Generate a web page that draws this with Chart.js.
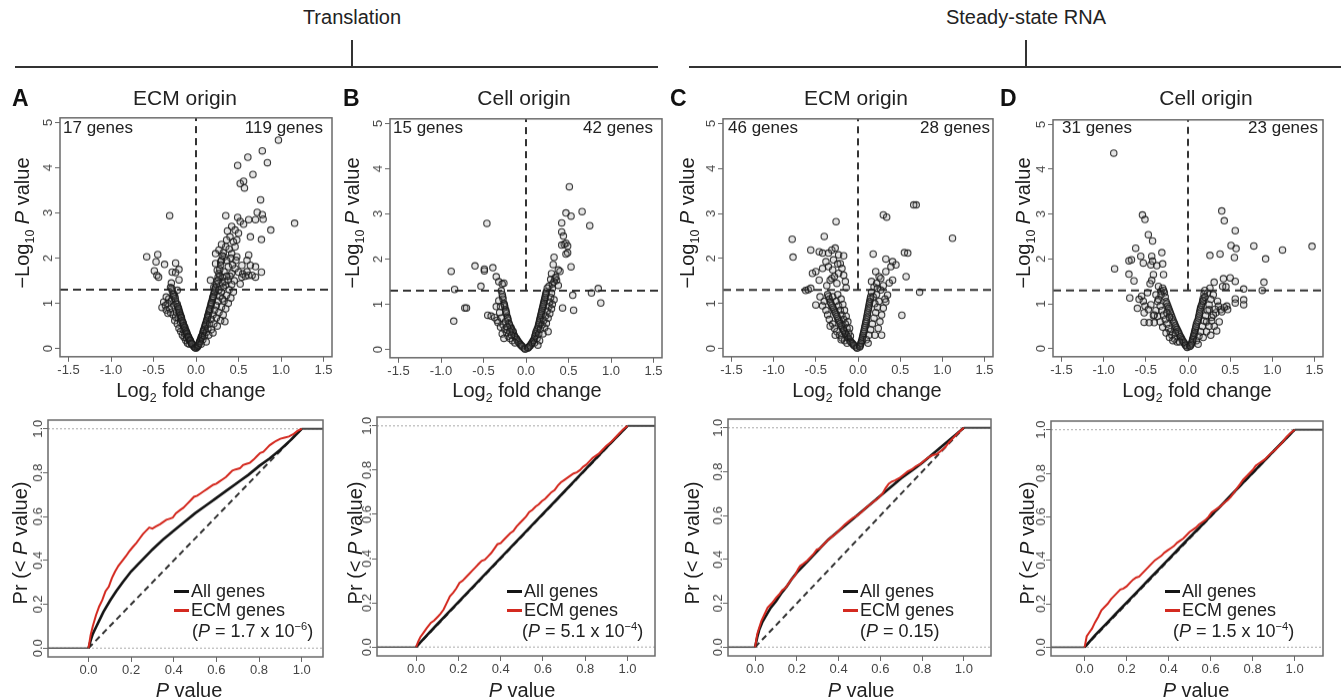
<!DOCTYPE html>
<html>
<head>
<meta charset="utf-8">
<title>Translation / steady-state RNA panels</title>
<script src="https://cdn.jsdelivr.net/npm/chart.js@4.4.1/dist/chart.umd.min.js"></script>
<style>
  body { margin: 0; background: #fff; }
  #page { position: relative; width: 1341px; height: 700px; overflow: hidden;
          font-family: "Liberation Sans", Arial, Helvetica, sans-serif; color: #222; }
  .t { position: absolute; white-space: nowrap; line-height: 1; }
  .wrap { position: absolute; }
  .rule { position: absolute; background: #333; }
  .sw { display: inline-block; width: 15px; height: 3px; vertical-align: middle;
        margin-right: 2px; position: relative; top: -1px; }
  sub, sup { font-size: 62%; line-height: 0; }
</style>
</head>
<body>
<div id="page"></div>
<script>
// ---- data ----
const volcanoXTicks = [-1.5, -1, -0.5, 0, 0.5, 1, 1.5];
const volcanoYTicks = [0, 1, 2, 3, 4, 5];
const cdfTicks = [0, 0.2, 0.4, 0.6, 0.8, 1];
const pCutoff = 1.3;   // -log10(0.05)

const panelLetters = ['A', 'B', 'C', 'D'];
const panelTitles = ['ECM origin', 'Cell origin', 'ECM origin', 'Cell origin'];
const genesDown = ['17 genes', '15 genes', '46 genes', '31 genes'];
const genesUp = ['119 genes', '42 genes', '28 genes', '23 genes'];
const ksPValues = ['1.7 x 10<sup>\u22126</sup>', '5.1 x 10<sup>\u22124</sup>', '0.15', '1.5 x 10<sup>\u22124</sup>'];

// volcano points [log2 fold change, -log10 P]
const volcanoA = [
  [0.97,4.61],[0.78,4.37],[0.61,4.23],[0.84,4.11],[0.49,4.05],[0.67,3.85],[0.56,3.70],[0.52,3.65],[0.57,3.55],[0.76,3.29],
  [-0.31,2.94],[0.35,2.94],[0.72,3.01],[0.78,2.96],[0.62,2.85],[0.70,2.85],[0.79,2.86],[1.16,2.77],[0.88,2.62],[0.64,2.47],
  [0.77,2.41],[0.49,2.90],[0.52,2.81],[0.42,2.70],[0.46,2.62],[0.50,2.55],[0.40,2.47],[0.36,2.40],[0.44,2.36],[0.46,2.25],
  [0.35,2.25],[0.27,2.18],[0.23,2.10],[0.33,2.03],[0.42,2.10],[0.48,2.03],[0.62,2.07],[0.60,1.95],[0.54,1.84],[0.64,1.84],
  [0.70,1.81],[0.77,1.69],[0.70,1.58],[0.62,1.62],[0.54,1.58],[0.50,1.69],[0.46,1.77],[0.42,1.66],[0.52,1.43],[0.38,1.51],
  [0.31,1.58],[0.25,1.73],[0.23,1.88],[0.29,1.92],[0.38,1.81],[0.17,1.51],[0.21,1.36],
  [0.30,2.30],[0.32,2.12],[0.37,2.60],[0.39,2.20],[0.41,2.00],[0.36,1.95],[0.33,1.70],[0.40,1.60],[0.45,1.50],[0.43,1.85],
  [0.28,1.60],[0.31,1.45],[0.35,1.40],[0.26,1.50],[0.48,2.40],[0.56,2.75],[0.47,1.95],[0.55,1.65],[0.58,1.60],[0.66,1.62],[0.60,1.70],
  [-0.58,2.03],[-0.45,2.08],[-0.47,1.92],[-0.37,1.86],[-0.24,1.89],[-0.20,1.75],[-0.28,1.69],[-0.24,1.68],[-0.49,1.72],[-0.46,1.62],
  [-0.44,1.58],[-0.20,1.52],[-0.29,1.45],[-0.32,1.10],[-0.35,1.14],[-0.38,1.03],[-0.40,0.91],[-0.30,0.80],[-0.26,1.21],[-0.22,1.29],
  [-0.30,1.35],[-0.28,1.28],[-0.27,1.20],[-0.25,1.15],[-0.24,1.05],[-0.22,0.98],[-0.21,0.90],[-0.20,0.84],[-0.19,0.78],[-0.18,0.72],
  [-0.17,0.66],[-0.16,0.60],[-0.15,0.55],[-0.14,0.50],[-0.13,0.45],[-0.12,0.40],[-0.11,0.35],[-0.10,0.30],[-0.09,0.26],[-0.08,0.22],
  [-0.07,0.18],[-0.06,0.14],[-0.05,0.11],[-0.04,0.08],[-0.03,0.06],[-0.02,0.04],
  [-0.33,1.00],[-0.36,0.95],[-0.31,0.88],[-0.27,0.75],[-0.25,0.62],[-0.22,0.55],[-0.20,0.45],[-0.18,0.38],[-0.16,0.30],[-0.14,0.25],
  [-0.12,0.18],[-0.10,0.12],[-0.08,0.10],[-0.29,1.05],[-0.26,0.95],[-0.23,0.80],[-0.21,0.68],[-0.18,0.58],[-0.15,0.42],[-0.13,0.33],
  [-0.11,0.24],[-0.35,0.85],[-0.33,0.78],[-0.24,0.70],
  [-0.285,1.33],[-0.265,1.16],[-0.245,1.11],[-0.235,0.99],[-0.215,0.93],[-0.205,0.88],[-0.195,0.81],[-0.185,0.74],[-0.172,0.69],
  [-0.166,0.62],[-0.152,0.57],[-0.147,0.51],[-0.133,0.47],[-0.127,0.41],[-0.113,0.37],[-0.106,0.33],[-0.094,0.27],[-0.087,0.25],
  [-0.073,0.19],[-0.066,0.17],[-0.054,0.12],[-0.047,0.10],[-0.012,0.02],[0.0,0.01],[0.012,0.03],
  [0.02,0.05],[0.03,0.09],[0.04,0.13],[0.05,0.18],[0.06,0.23],[0.07,0.28],[0.08,0.34],[0.09,0.40],[0.10,0.46],[0.11,0.52],
  [0.12,0.58],[0.13,0.65],[0.14,0.72],[0.15,0.79],[0.16,0.86],[0.17,0.93],[0.18,1.00],[0.19,1.07],[0.20,1.14],[0.21,1.21],
  [0.22,1.28],[0.23,1.35],[0.24,1.42],[0.25,1.50],[0.26,1.58],[0.27,1.66],[0.28,1.75],[0.29,1.85],[0.30,1.95],[0.31,2.05],
  [0.026,0.07],[0.037,0.12],[0.044,0.16],[0.057,0.21],[0.063,0.26],[0.076,0.30],[0.086,0.38],[0.094,0.42],[0.107,0.50],
  [0.113,0.54],[0.126,0.62],[0.137,0.69],[0.143,0.74],[0.156,0.83],[0.164,0.88],[0.177,0.97],[0.183,1.02],[0.196,1.11],
  [0.204,1.16],[0.216,1.25],[0.226,1.32],
  [0.08,0.20],[0.10,0.28],[0.12,0.36],[0.14,0.45],[0.16,0.55],[0.18,0.65],[0.20,0.75],[0.22,0.85],[0.24,0.95],[0.26,1.05],
  [0.28,1.15],[0.30,1.25],[0.32,1.35],[0.34,1.48],[0.36,1.60],[0.15,0.30],[0.18,0.42],[0.21,0.55],[0.24,0.68],[0.27,0.80],
  [0.30,0.92],[0.33,1.05],[0.36,1.18],[0.39,1.30],[0.42,1.42],[0.25,0.50],[0.29,0.62],[0.32,0.75],[0.35,0.88],[0.38,1.00],
  [0.41,1.12],[0.44,1.25],[0.20,0.35],[0.34,0.60],[0.27,1.30],[0.31,1.10],[0.12,0.15],[0.06,0.10]
];
const volcanoB = [
  [0.51,3.60],[0.47,3.02],[0.53,2.95],[0.66,3.05],[0.75,2.74],[0.42,2.80],[-0.46,2.79],[0.42,2.60],[0.44,2.51],[0.45,2.33],
  [0.42,2.31],[0.47,2.35],[0.49,2.29],[0.49,2.14],[0.47,2.11],[0.53,1.83],[0.33,2.04],[0.32,1.88],[0.38,1.76],[0.40,1.73],
  [0.30,1.68],[0.34,1.57],[0.36,1.53],[0.38,1.42],[-0.60,1.85],[-0.39,1.81],[-0.49,1.78],[-0.49,1.74],[-0.88,1.73],[-0.35,1.61],
  [-0.32,1.50],[-0.53,1.40],[-0.84,1.33],[-0.26,1.47],[-0.28,1.45],[0.85,1.35],[0.77,1.25],[0.55,1.20],[0.43,0.92],[0.56,0.87],
  [0.88,1.03],[-0.72,0.92],[-0.70,0.92],[-0.85,0.63],[-0.45,0.76],[-0.41,0.74],[-0.37,0.71],[-0.34,0.65],
  [0.31,1.45],[0.33,1.50],[0.35,1.60],[0.29,1.55],[0.27,1.40],[0.31,1.35],
  [-0.29,1.30],[-0.28,1.22],[-0.27,1.12],[-0.26,1.02],[-0.25,0.95],[-0.24,0.88],[-0.23,0.80],[-0.22,0.72],[-0.21,0.65],[-0.20,0.58],
  [-0.18,0.50],[-0.17,0.44],[-0.15,0.38],[-0.14,0.32],[-0.12,0.26],[-0.10,0.20],[-0.08,0.15],[-0.06,0.10],[-0.04,0.06],[-0.02,0.03],
  [-0.275,1.17],[-0.255,0.99],[-0.235,0.84],[-0.215,0.69],[-0.195,0.55],[-0.175,0.47],[-0.155,0.41],[-0.135,0.29],[-0.11,0.23],
  [-0.09,0.17],[-0.07,0.12],[-0.05,0.08],[-0.01,0.01],
  [-0.32,1.08],[-0.30,0.95],[-0.31,0.82],[-0.29,0.70],[-0.27,0.55],[-0.25,0.45],[-0.23,0.38],[-0.21,0.30],[-0.19,0.25],[-0.16,0.20],
  [-0.13,0.15],[-0.33,0.60],[-0.30,0.50],[-0.28,0.35],[-0.24,0.62],[-0.22,0.50],[-0.19,0.40],[-0.17,0.32],[-0.35,0.95],[-0.26,0.25],
  [0.02,0.03],[0.04,0.07],[0.06,0.12],[0.08,0.18],[0.10,0.25],[0.11,0.32],[0.12,0.40],[0.14,0.48],[0.15,0.56],[0.16,0.64],
  [0.17,0.72],[0.18,0.80],[0.19,0.88],[0.20,0.96],[0.21,1.04],[0.22,1.12],[0.23,1.20],[0.24,1.28],[0.25,1.36],
  [0.03,0.05],[0.05,0.09],[0.07,0.15],[0.09,0.21],[0.105,0.29],[0.115,0.36],[0.13,0.44],[0.145,0.52],[0.155,0.60],[0.165,0.68],
  [0.175,0.76],[0.185,0.84],[0.195,0.92],[0.205,1.00],[0.215,1.08],[0.225,1.16],[0.235,1.24],
  [0.10,0.15],[0.13,0.25],[0.15,0.35],[0.17,0.45],[0.19,0.55],[0.21,0.65],[0.23,0.75],[0.25,0.85],[0.27,0.95],[0.28,1.05],
  [0.29,1.15],[0.30,1.25],[0.16,0.20],[0.20,0.35],[0.22,0.48],[0.24,0.58],[0.26,0.70],[0.28,0.80],[0.30,0.90],[0.31,1.00],
  [0.33,1.10],[0.14,0.10],[0.26,0.40]
];
const volcanoC = [
  [0.69,3.19],[0.66,3.19],[0.30,2.97],[0.34,2.92],[-0.26,2.82],[1.12,2.45],[-0.78,2.43],[-0.40,2.49],[-0.77,2.03],[-0.56,2.19],
  [-0.46,2.15],[-0.42,2.12],[-0.35,2.12],[-0.31,2.19],[-0.27,2.23],[-0.38,1.93],[-0.35,1.82],[-0.29,1.97],[-0.23,2.08],[-0.17,2.06],
  [-0.21,1.89],[-0.19,1.78],[-0.17,1.63],[-0.23,1.67],[-0.31,1.56],[-0.42,1.78],[-0.50,1.71],[-0.54,1.67],[-0.46,1.52],[-0.33,1.52],
  [-0.15,1.49],[-0.62,1.29],[-0.59,1.31],[-0.56,1.34],[-0.50,0.97],[0.18,2.10],[0.33,1.99],[0.55,2.13],[0.59,2.12],[0.41,1.93],
  [0.45,1.86],[0.39,1.82],[0.21,1.71],[0.33,1.71],[0.25,1.60],[0.27,1.56],[0.41,1.52],[0.37,1.46],[0.57,1.60],[0.16,1.49],
  [0.19,1.37],[0.23,1.34],[0.27,1.30],[0.35,1.19],[0.33,1.04],[0.73,1.25],[0.52,0.74],
  [-0.25,1.45],[-0.28,1.60],[-0.37,1.40],[-0.24,1.88],[-0.30,1.75],[-0.14,1.35],[0.22,1.45],[0.30,1.40],
  [-0.36,1.20],[-0.34,1.10],[-0.32,1.00],[-0.30,0.92],[-0.28,0.84],[-0.26,0.76],[-0.24,0.68],[-0.22,0.60],[-0.20,0.52],[-0.18,0.45],
  [-0.16,0.38],[-0.14,0.31],[-0.12,0.25],[-0.10,0.19],[-0.08,0.14],[-0.06,0.10],[-0.04,0.06],[-0.02,0.03],
  [-0.35,1.16],[-0.33,1.04],[-0.31,0.96],[-0.29,0.88],[-0.27,0.80],[-0.25,0.72],[-0.23,0.64],[-0.21,0.56],[-0.19,0.49],[-0.17,0.41],
  [-0.15,0.34],[-0.13,0.28],[-0.11,0.22],[-0.09,0.16],[-0.07,0.12],[-0.05,0.08],[-0.01,0.01],
  [-0.40,1.05],[-0.42,0.95],[-0.38,0.85],[-0.36,0.75],[-0.34,0.65],[-0.30,0.55],[-0.28,0.45],[-0.25,0.38],[-0.22,0.30],[-0.19,0.24],
  [-0.16,0.18],[-0.13,0.12],[-0.30,1.15],[-0.26,1.05],[-0.23,0.95],[-0.21,0.85],[-0.19,0.75],[-0.17,0.65],[-0.15,0.55],[-0.13,0.45],
  [-0.11,0.35],[-0.24,1.20],[-0.20,1.10],[-0.18,0.98],[-0.16,0.85],[-0.14,0.72],[-0.12,0.60],[-0.33,0.50],[-0.27,0.30],[-0.20,0.20],
  [-0.45,1.15],[-0.10,0.45],[-0.09,0.28],
  [0.02,0.04],[0.03,0.09],[0.04,0.15],[0.05,0.22],[0.06,0.30],[0.07,0.38],[0.08,0.47],[0.09,0.56],[0.10,0.65],[0.11,0.75],
  [0.12,0.85],[0.13,0.95],[0.14,1.05],[0.15,1.15],[0.16,1.25],
  [0.025,0.06],[0.035,0.12],[0.045,0.18],[0.055,0.26],[0.065,0.34],[0.075,0.42],[0.085,0.51],[0.095,0.60],[0.105,0.70],[0.115,0.80],
  [0.125,0.90],[0.135,1.00],[0.145,1.10],
  [0.10,0.20],[0.13,0.30],[0.15,0.42],[0.17,0.55],[0.19,0.68],[0.21,0.80],[0.23,0.92],[0.25,1.05],[0.20,0.30],[0.24,0.45],
  [0.26,0.60],[0.28,0.75],[0.30,0.90],[0.32,1.10],[0.18,1.15],[0.22,1.20],[0.12,0.12],[0.28,0.30],[0.20,1.00]
];
const volcanoD = [
  [-0.88,4.36],[-0.54,2.98],[-0.51,2.88],[-0.47,2.54],[-0.42,2.40],[-0.62,2.24],[-0.31,2.14],[-0.43,2.06],[-0.56,2.06],[-0.67,1.98],
  [-0.70,1.96],[-0.53,1.91],[-0.44,1.87],[-0.42,1.95],[-0.30,1.89],[-0.37,1.85],[-0.87,1.78],[-0.70,1.66],[-0.64,1.51],[-0.41,1.65],
  [-0.29,1.65],[-0.43,1.52],[-0.45,1.45],[-0.35,1.39],[-0.32,1.28],[-0.69,1.13],[-0.55,1.17],[-0.53,1.06],[-0.51,0.95],[-0.47,0.87],
  [-0.52,0.80],[-0.52,0.59],[-0.41,0.74],[-0.40,0.58],[-0.46,0.58],[0.40,3.07],[0.43,2.85],[0.56,2.63],[0.78,2.29],[1.47,2.28],
  [1.12,2.20],[0.51,2.30],[0.57,2.23],[0.55,2.03],[0.26,2.08],[0.38,2.11],[0.92,2.00],[0.42,1.56],[0.50,1.58],[0.56,1.50],
  [0.90,1.48],[0.88,1.30],[0.41,1.39],[0.45,1.38],[0.31,1.48],[0.66,1.33],[0.56,1.11],[0.66,1.09],[0.66,0.98],[0.56,1.02],
  [0.46,0.95],[0.39,0.87],[0.47,0.87],[0.43,0.92],[0.35,1.06],[0.18,1.06],[0.23,1.24],[0.25,0.87],[0.33,0.80],[0.31,0.50],
  [-0.38,1.20],[-0.36,1.05],[-0.48,1.25],[-0.58,1.10],[-0.60,0.90],[-0.44,0.98],[0.20,1.30],[0.26,1.35],[0.30,1.20],[0.36,0.95],
  [0.28,0.70],[0.22,0.60],
  [-0.30,1.35],[-0.28,1.25],[-0.27,1.15],[-0.26,1.05],[-0.24,0.95],[-0.22,0.85],[-0.20,0.75],[-0.18,0.65],[-0.16,0.56],[-0.14,0.47],
  [-0.12,0.39],[-0.10,0.31],[-0.08,0.24],[-0.06,0.17],[-0.04,0.11],[-0.02,0.06],
  [-0.29,1.30],[-0.25,1.00],[-0.23,0.90],[-0.21,0.80],[-0.19,0.70],[-0.17,0.60],[-0.15,0.51],[-0.13,0.43],[-0.11,0.35],[-0.09,0.27],
  [-0.07,0.20],[-0.05,0.14],[-0.03,0.08],[-0.01,0.03],
  [-0.35,1.10],[-0.33,0.95],[-0.31,0.85],[-0.29,0.75],[-0.27,0.65],[-0.25,0.55],[-0.23,0.45],[-0.21,0.38],[-0.19,0.30],[-0.16,0.22],
  [-0.13,0.15],[-0.38,0.85],[-0.36,0.72],[-0.33,0.60],[-0.30,0.48],[-0.26,0.35],[-0.22,0.25],[-0.18,0.18],[-0.25,0.80],[-0.22,0.70],
  [-0.32,1.20],[-0.40,0.75],[-0.15,0.35],[-0.10,0.15],
  [0.02,0.05],[0.04,0.10],[0.05,0.16],[0.06,0.23],[0.07,0.30],[0.08,0.38],[0.09,0.46],[0.10,0.55],[0.12,0.64],[0.13,0.73],
  [0.14,0.82],[0.15,0.92],[0.17,1.02],[0.18,1.12],[0.19,1.22],
  [0.03,0.07],[0.045,0.13],[0.055,0.20],[0.065,0.27],[0.075,0.34],[0.085,0.42],[0.095,0.50],[0.11,0.60],[0.125,0.69],[0.135,0.78],
  [0.145,0.87],[0.16,0.97],[0.175,1.07],
  [0.10,0.18],[0.13,0.28],[0.15,0.38],[0.17,0.50],[0.19,0.62],[0.21,0.74],[0.23,0.85],[0.25,0.98],[0.27,1.10],[0.18,0.25],
  [0.22,0.38],[0.25,0.50],[0.28,0.62],[0.30,0.75],[0.32,0.88],[0.34,0.40],[0.20,1.15],[0.12,0.10],[0.27,0.30],[0.37,0.60],[0.40,0.82]
];

// cumulative distributions [P value, Pr(< P value)]
const cdfAllA = [[0,0],[0.01,0.035],[0.02,0.065],[0.035,0.095],[0.05,0.125],[0.07,0.165],[0.1,0.215],[0.13,0.26],[0.16,0.30],
  [0.2,0.35],[0.25,0.40],[0.3,0.45],[0.35,0.495],[0.4,0.535],[0.45,0.575],[0.5,0.615],[0.55,0.65],[0.6,0.685],[0.65,0.72],
  [0.7,0.755],[0.75,0.79],[0.8,0.83],[0.85,0.865],[0.9,0.905],[0.95,0.95],[1,1]];
const cdfEcmA = [[0,0],[0.01,0.06],[0.02,0.10],[0.035,0.15],[0.05,0.19],[0.065,0.22],[0.08,0.26],[0.095,0.28],[0.11,0.32],[0.125,0.35],
  [0.14,0.375],[0.16,0.40],[0.176,0.42],[0.19,0.44],[0.207,0.46],[0.225,0.48],[0.24,0.50],[0.255,0.52],[0.27,0.535],[0.285,0.55],
  [0.30,0.545],[0.317,0.555],[0.335,0.565],[0.35,0.575],[0.365,0.585],[0.38,0.59],[0.395,0.595],[0.41,0.615],[0.43,0.63],[0.445,0.64],
  [0.46,0.655],[0.48,0.675],[0.495,0.69],[0.51,0.695],[0.525,0.705],[0.54,0.715],[0.555,0.725],[0.57,0.735],[0.585,0.745],[0.60,0.75],
  [0.615,0.76],[0.63,0.77],[0.645,0.78],[0.66,0.795],[0.675,0.81],[0.69,0.815],[0.71,0.82],[0.725,0.835],[0.74,0.84],[0.757,0.845],
  [0.775,0.86],[0.79,0.875],[0.805,0.89],[0.82,0.895],[0.835,0.91],[0.85,0.925],[0.865,0.935],[0.88,0.945],[0.9,0.955],[0.92,0.96],
  [0.94,0.965],[0.96,0.975],[0.98,0.99],[1,1]];
const cdfAllB = [[0,0],[0.05,0.052],[0.1,0.103],[0.15,0.153],[0.2,0.203],[0.25,0.253],[0.3,0.303],[0.35,0.353],[0.4,0.403],
  [0.45,0.453],[0.5,0.503],[0.55,0.553],[0.6,0.603],[0.65,0.652],[0.7,0.702],[0.75,0.752],[0.8,0.802],[0.85,0.852],[0.9,0.902],
  [0.95,0.951],[1,1]];
const cdfEcmB = [[0,0],[0.01,0.025],[0.02,0.045],[0.035,0.065],[0.05,0.085],[0.07,0.11],[0.085,0.12],[0.1,0.135],[0.115,0.15],[0.13,0.17],
  [0.145,0.20],[0.16,0.23],[0.175,0.245],[0.19,0.265],[0.205,0.29],[0.22,0.30],[0.235,0.315],[0.25,0.33],[0.265,0.345],[0.28,0.36],
  [0.295,0.375],[0.31,0.39],[0.325,0.395],[0.34,0.41],[0.355,0.425],[0.37,0.445],[0.385,0.465],[0.40,0.47],[0.415,0.485],[0.43,0.50],
  [0.445,0.515],[0.46,0.525],[0.475,0.545],[0.49,0.56],[0.505,0.575],[0.52,0.59],[0.535,0.61],[0.55,0.62],[0.565,0.635],[0.58,0.645],
  [0.595,0.66],[0.61,0.67],[0.625,0.685],[0.64,0.70],[0.655,0.71],[0.67,0.73],[0.685,0.745],[0.70,0.755],[0.715,0.765],[0.73,0.775],
  [0.745,0.785],[0.76,0.79],[0.775,0.80],[0.79,0.815],[0.805,0.825],[0.82,0.84],[0.835,0.855],[0.85,0.865],[0.865,0.875],[0.88,0.89],
  [0.9,0.91],[0.92,0.925],[0.94,0.945],[0.96,0.965],[0.98,0.985],[1,1]];
const cdfAllC = [[0,0],[0.01,0.045],[0.02,0.08],[0.035,0.115],[0.05,0.14],[0.075,0.18],[0.1,0.21],[0.125,0.245],[0.15,0.275],
  [0.175,0.31],[0.2,0.34],[0.25,0.39],[0.3,0.44],[0.35,0.49],[0.4,0.53],[0.45,0.57],[0.5,0.61],[0.55,0.65],[0.6,0.69],
  [0.65,0.73],[0.7,0.77],[0.75,0.805],[0.8,0.84],[0.85,0.88],[0.9,0.92],[0.95,0.96],[1,1]];
const cdfEcmC = [[0,0],[0.01,0.06],[0.02,0.09],[0.03,0.12],[0.045,0.15],[0.06,0.18],[0.08,0.20],[0.1,0.225],[0.115,0.24],[0.13,0.26],
  [0.145,0.27],[0.16,0.29],[0.175,0.31],[0.19,0.325],[0.205,0.355],[0.215,0.37],[0.23,0.38],[0.25,0.395],[0.265,0.41],[0.28,0.425],
  [0.295,0.445],[0.31,0.45],[0.33,0.47],[0.35,0.49],[0.37,0.505],[0.39,0.52],[0.41,0.54],[0.43,0.56],[0.45,0.575],[0.47,0.59],
  [0.49,0.60],[0.51,0.615],[0.53,0.635],[0.55,0.65],[0.57,0.665],[0.59,0.68],[0.61,0.70],[0.625,0.725],[0.64,0.745],[0.655,0.755],
  [0.67,0.76],[0.69,0.77],[0.71,0.785],[0.73,0.80],[0.75,0.81],[0.77,0.825],[0.79,0.835],[0.81,0.85],[0.83,0.865],[0.85,0.875],
  [0.87,0.88],[0.89,0.895],[0.91,0.91],[0.93,0.935],[0.95,0.955],[0.97,0.975],[1,1]];
const cdfAllD = [[0,0],[0.05,0.055],[0.1,0.105],[0.15,0.155],[0.2,0.205],[0.25,0.255],[0.3,0.305],[0.35,0.355],[0.4,0.405],
  [0.45,0.455],[0.5,0.505],[0.55,0.553],[0.6,0.603],[0.65,0.652],[0.7,0.702],[0.75,0.752],[0.8,0.802],[0.85,0.852],[0.9,0.902],
  [0.95,0.951],[1,1]];
const cdfEcmD = [[0,0],[0.01,0.05],[0.02,0.065],[0.035,0.085],[0.05,0.115],[0.065,0.14],[0.08,0.17],[0.095,0.185],[0.11,0.20],[0.125,0.22],
  [0.14,0.235],[0.155,0.25],[0.17,0.265],[0.185,0.27],[0.2,0.28],[0.215,0.295],[0.23,0.31],[0.245,0.32],[0.26,0.325],[0.275,0.34],
  [0.29,0.355],[0.305,0.37],[0.32,0.385],[0.335,0.40],[0.35,0.41],[0.365,0.42],[0.38,0.435],[0.395,0.445],[0.41,0.455],[0.425,0.465],
  [0.44,0.48],[0.455,0.49],[0.47,0.50],[0.485,0.515],[0.5,0.53],[0.515,0.54],[0.53,0.55],[0.545,0.565],[0.56,0.575],[0.575,0.585],
  [0.59,0.60],[0.605,0.62],[0.62,0.63],[0.635,0.64],[0.65,0.65],[0.665,0.665],[0.68,0.675],[0.695,0.69],[0.71,0.71],[0.725,0.73],
  [0.74,0.75],[0.755,0.77],[0.77,0.785],[0.785,0.80],[0.80,0.815],[0.815,0.835],[0.83,0.845],[0.845,0.855],[0.86,0.865],[0.875,0.88],
  [0.89,0.895],[0.905,0.905],[0.92,0.92],[0.94,0.94],[0.96,0.965],[0.98,0.985],[1,1]];

const volcanoSets = [volcanoA, volcanoB, volcanoC, volcanoD];
const cdfAllSets = [cdfAllA, cdfAllB, cdfAllC, cdfAllD];
const cdfEcmSets = [cdfEcmA, cdfEcmB, cdfEcmC, cdfEcmD];

// ---- layout (pixel boxes of each plot region) ----
const volcanoBoxes = [
  {x: 60, y: 118, w: 272, h: 238}, {x: 390, y: 119, w: 272, h: 238},
  {x: 723, y: 119, w: 270, h: 237}, {x: 1053, y: 120, w: 270, h: 236}
];
const cdfBoxes = [
  {x: 48, y: 420, w: 275, h: 236}, {x: 377, y: 417, w: 278, h: 238},
  {x: 728, y: 419, w: 263, h: 236}, {x: 1051, y: 421, w: 272, h: 234}
];
const volcanoXRange = [-1.6, 1.6];
const volcanoYRange = [-0.18, 5.1];
const cdfXRanges = [[-0.19, 1.10], [-0.185, 1.13], [-0.13, 1.13], [-0.16, 1.135]];
const cdfYRange = [-0.04, 1.04];

const FONT = '"Liberation Sans", Arial, Helvetica, sans-serif';
Chart.defaults.font.family = FONT;
Chart.defaults.color = '#444';

const page = document.getElementById('page');

function addText(html, x, y, size, anchor, extra) {
  const d = document.createElement('div');
  d.className = 't';
  d.innerHTML = html;
  d.style.left = x + 'px';
  d.style.top = y + 'px';
  d.style.fontSize = size + 'px';
  const tx = anchor === 'left' ? '0' : (anchor === 'right' ? '-100%' : '-50%');
  d.style.transform = 'translate(' + tx + ',-50%)' + (extra || '');
  page.appendChild(d);
  return d;
}

function addRule(x, y, w, h) {
  const d = document.createElement('div');
  d.className = 'rule';
  d.style.left = x + 'px'; d.style.top = y + 'px';
  d.style.width = w + 'px'; d.style.height = h + 'px';
  page.appendChild(d);
}

function makeCanvas() {
  const wrap = document.createElement('div');
  wrap.className = 'wrap';
  const c = document.createElement('canvas');
  c.width = 380; c.height = 310;
  wrap.appendChild(c);
  page.appendChild(wrap);
  return c;
}

// box around the plotting region (R style)
const boxPlugin = {
  id: 'box',
  afterDraw(chart) {
    const {ctx, chartArea: a} = chart;
    ctx.save();
    ctx.strokeStyle = '#6a6a6a';
    ctx.lineWidth = 1.5;
    ctx.strokeRect(a.left, a.top, a.right - a.left, a.bottom - a.top);
    ctx.restore();
  }
};

// resize canvas so that the chart area lands exactly on the wanted box
function place(chart, box) {
  for (let i = 0; i < 2; i++) {
    const ca = chart.chartArea;
    chart.resize(chart.width + box.w - (ca.right - ca.left), chart.height + box.h - (ca.bottom - ca.top));
  }
  const ca = chart.chartArea;
  chart.canvas.parentNode.style.left = (box.x - ca.left) + 'px';
  chart.canvas.parentNode.style.top = (box.y - ca.top) + 'px';
}

function axis(range, ticks, fmt, vertical, pad) {
  const sc = {
    type: 'linear',
    min: range[0],
    max: range[1],
    afterBuildTicks: s => { s.ticks = ticks.map(v => ({value: v})); },
    border: {display: false},
    grid: {display: true, drawOnChartArea: false, drawTicks: true, tickLength: 5, color: '#666', lineWidth: 1},
    ticks: {maxRotation: 0, padding: pad, color: '#444', font: {size: 13}, callback: v => fmt(v)}
  };
  if (vertical) {
    // R style: labels parallel to the axis
    sc.ticks = {minRotation: 90, maxRotation: 90, crossAlign: 'center', padding: pad, color: '#444',
                font: {size: 13}, callback: v => fmt(v)};
    sc.afterFit = s => { s.width = 34; };
  }
  return sc;
}

const toPts = arr => arr.map(p => ({x: p[0], y: p[1]}));

const baseOptions = {
  responsive: false,
  maintainAspectRatio: false,
  animation: false,
  events: [],
  layout: {padding: {left: 4, right: 6, top: 4, bottom: 4}},
  plugins: {legend: {display: false}, tooltip: {enabled: false}}
};

function volcanoChart(i) {
  const canvas = makeCanvas();
  const chart = new Chart(canvas, {
    type: 'scatter',
    data: {
      datasets: [
        {
          data: toPts(volcanoSets[i]),
          pointRadius: 3.2,
          pointBorderWidth: 1.1,
          pointBorderColor: 'rgba(25,25,25,0.88)',
          pointBackgroundColor: 'rgba(110,110,110,0.18)',
          order: 0
        },
        {
          data: toPts([[volcanoXRange[0], pCutoff], [volcanoXRange[1], pCutoff]]),
          showLine: true, pointRadius: 0, borderColor: '#333', borderWidth: 2,
          borderDash: [8, 5], order: 1
        },
        {
          data: toPts([[0, pCutoff], [0, volcanoYRange[1]]]),
          showLine: true, pointRadius: 0, borderColor: '#333', borderWidth: 2,
          borderDash: [7, 5], order: 1
        }
      ]
    },
    options: Object.assign({}, baseOptions, {
      scales: {
        x: axis(volcanoXRange, volcanoXTicks, v => v.toFixed(1), false, 1),
        y: axis(volcanoYRange, volcanoYTicks, v => String(v), true, 3)
      }
    }),
    plugins: [boxPlugin]
  });
  place(chart, volcanoBoxes[i]);
}

function cdfChart(i) {
  const canvas = makeCanvas();
  const xr = cdfXRanges[i];
  const chart = new Chart(canvas, {
    type: 'scatter',
    data: {
      datasets: [
        {
          label: 'ECM genes', data: toPts(cdfEcmSets[i]), showLine: true, pointRadius: 0,
          borderColor: '#d42a20', borderWidth: 2, order: 0
        },
        {
          label: 'All genes', data: toPts(cdfAllSets[i]), showLine: true, pointRadius: 0,
          borderColor: '#151515', borderWidth: 2.6, order: 1
        },
        {
          data: toPts([[0, 0], [1, 1]]), showLine: true, pointRadius: 0,
          borderColor: '#333', borderWidth: 2, borderDash: [6, 4], order: 2
        },
        {   // flat ends of the step curves
          data: toPts([[xr[0], 0], [0, 0]]), showLine: true, pointRadius: 0,
          borderColor: '#555', borderWidth: 1.6, order: 2
        },
        {
          data: toPts([[1, 1], [xr[1], 1]]), showLine: true, pointRadius: 0,
          borderColor: '#444', borderWidth: 2, order: 2
        },
        {
          data: toPts([[xr[0], 0], [xr[1], 0]]), showLine: true, pointRadius: 0,
          borderColor: '#aaa', borderWidth: 1, borderDash: [2, 2], order: 3
        },
        {
          data: toPts([[xr[0], 1], [xr[1], 1]]), showLine: true, pointRadius: 0,
          borderColor: '#aaa', borderWidth: 1, borderDash: [2, 2], order: 3
        }
      ]
    },
    options: Object.assign({}, baseOptions, {
      scales: {
        x: axis(xr, cdfTicks, v => v.toFixed(1), false, 1),
        y: axis(cdfYRange, cdfTicks, v => v.toFixed(1), true, -4)
      }
    }),
    plugins: [boxPlugin]
  });
  place(chart, cdfBoxes[i]);
}

// ---- headers ----
addText('Translation', 352, 17, 20, 'center');
addRule(15, 66, 643, 2);
addRule(351, 40, 2, 27);
addText('Steady-state RNA', 1026, 17, 20, 'center');
addRule(689, 66, 652, 2);
addRule(1025, 40, 2, 27);

// ---- panel text ----
const letterX = [12, 343, 670, 1000];
const titleX = [185, 524, 856, 1206];
const downX = [63, 393, 728, 1062];
const upX = [323, 653, 990, 1318];
const vxTitleX = [191, 527, 867, 1197];
const vyTitleX = [22, 352, 687, 1023];
const cxTitleX = [189, 522, 861, 1196];
const cyTitleX = [20, 355, 692, 1027];
const swatchX = [174, 507, 843, 1165];
const pTextX = [192, 522, 860, 1173];

for (let i = 0; i < 4; i++) {
  volcanoChart(i);
  cdfChart(i);

  const L = addText(panelLetters[i], letterX[i], 98, 23, 'left');
  L.style.fontWeight = '900';
  L.style.color = '#111';
  addText(panelTitles[i], titleX[i], 97, 21, 'center');
  addText(genesDown[i], downX[i], 127, 17, 'left');
  addText(genesUp[i], upX[i], 127, 17, 'right');
  addText('Log<sub>2</sub> fold change', vxTitleX[i], 390, 20, 'center');
  addText('\u2212Log<sub>10</sub> <i>P</i> value', vyTitleX[i], 223, 20, 'center', ' rotate(-90deg)');
  addText('<i>P</i> value', cxTitleX[i], 690, 20, 'center');
  addText('Pr (&lt; <i>P</i> value)', cyTitleX[i], 543, 20, 'center', ' rotate(-90deg)');
  addText('<span class="sw" style="background:#151515"></span>All genes', swatchX[i], 591, 18, 'left');
  addText('<span class="sw" style="background:#d42a20"></span>ECM genes', swatchX[i], 610, 18, 'left');
  addText('(<i>P</i> = ' + ksPValues[i] + ')', pTextX[i], 631, 18, 'left');
}
</script>
</body>
</html>
